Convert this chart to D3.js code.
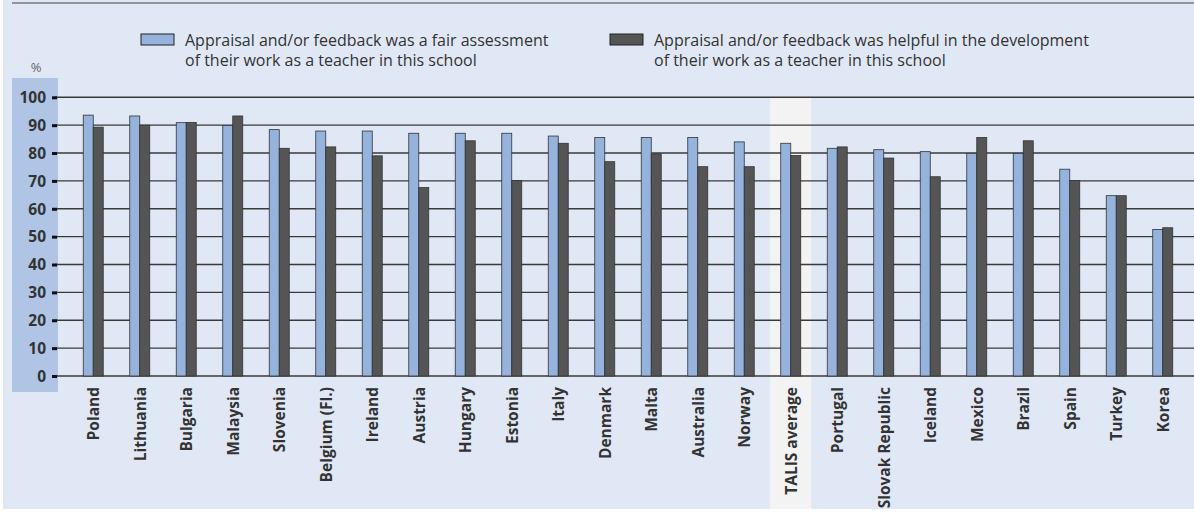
<!DOCTYPE html>
<html>
<head>
<meta charset="utf-8">
<script src="https://cdn.jsdelivr.net/npm/d3@7"></script>
<style>
  body { margin: 0; background: #fff; }
  svg text { font-family: 'Open Sans', sans-serif; fill: #333; }
  .tick-label { font-weight: bold; font-size: 15.5px; }
  .cat-label { font-weight: bold; font-size: 15.5px; }
  .legend-text { font-size: 16px; }
</style>
</head>
<body>
<div id="chart"></div>
<script>
// categories and series values (%)
var countries = ['Poland', 'Lithuania', 'Bulgaria', 'Malaysia', 'Slovenia', 'Belgium (Fl.)', 'Ireland',
    'Austria', 'Hungary', 'Estonia', 'Italy', 'Denmark', 'Malta', 'Australia', 'Norway', 'TALIS average',
    'Portugal', 'Slovak Republic', 'Iceland', 'Mexico', 'Brazil', 'Spain', 'Turkey', 'Korea'];
var fairAssessment = [93.6, 93.3, 90.9, 89.9, 88.4, 87.9, 87.9, 87.1, 87.1, 87.1, 86.1, 85.6, 85.6, 85.6,
    84.0, 83.5, 81.7, 81.2, 80.5, 79.9, 79.9, 74.2, 64.7, 52.6];
var helpfulDevelopment = [89.3, 90.0, 91.0, 93.3, 81.7, 82.2, 79.0, 67.6, 84.4, 70.1, 83.5, 76.9, 79.7, 75.1,
    75.1, 79.1, 82.2, 78.2, 71.5, 85.6, 84.4, 70.1, 64.7, 53.2];
var yTicks = [0, 10, 20, 30, 40, 50, 60, 70, 80, 90, 100];
var legendLabels = [
    ['Appraisal and/or feedback was a fair assessment', 'of their work as a teacher in this school'],
    ['Appraisal and/or feedback was helpful in the development', 'of their work as a teacher in this school']
];
var highlight = 'TALIS average';

var svgWidth = 1194;
var svgHeight = 512;

var colors = ['#95b3dd', '#555555'];

var svg = d3.select('#chart')
    .append('svg')
    .attr('width', svgWidth)
    .attr('height', svgHeight);

// panel background
svg.append('rect')
    .attr('x', 3).attr('y', 0)
    .attr('width', svgWidth - 3).attr('height', 509)
    .attr('fill', '#e1e8f5');

// top rule
svg.append('line')
    .attr('x1', 12).attr('x2', svgWidth)
    .attr('y1', 3).attr('y2', 3)
    .attr('stroke', '#444').attr('stroke-width', 1.2);

// scales
var x0 = d3.scaleBand()
    .domain(countries)
    .range([70, 1186])
    .paddingInner(0.57)
    .paddingOuter(0.285);

var x1 = d3.scaleBand()
    .domain([0, 1])
    .range([0, x0.bandwidth()]);

var y = d3.scaleLinear()
    .domain([0, 100])
    .range([376, 97.3]);

// shaded strip behind y labels
svg.append('rect')
    .attr('x', 12).attr('y', 78)
    .attr('width', 46).attr('height', 314)
    .attr('fill', '#b0c5e6');

// highlighted column
svg.append('rect')
    .attr('x', x0(highlight) + x0.bandwidth() / 2 - 20.5)
    .attr('y', y(100))
    .attr('width', 41)
    .attr('height', 509 - y(100))
    .attr('fill', '#f3f3f3');

// gridlines
svg.append('g')
    .selectAll('line')
    .data(yTicks)
    .enter()
    .append('line')
    .attr('x1', 55).attr('x2', svgWidth)
    .attr('y1', d => y(d)).attr('y2', d => y(d))
    .attr('stroke', '#3a3a3a')
    .attr('stroke-width', 1.4);

// left axis: square tick marks + labels
var leftAxis = d3.axisLeft(y)
    .tickValues(yTicks)
    .tickSize(0)
    .tickPadding(0);

var axisG = svg.append('g')
    .attr('transform', 'translate(52, 0)')
    .call(leftAxis);
axisG.select('.domain').remove();
axisG.selectAll('.tick text')
    .attr('class', 'tick-label')
    .attr('x', -6)
    .attr('dy', '0.34em')
    .style('font-family', null)
    .style('font-size', null);
axisG.selectAll('.tick')
    .append('rect')
    .attr('x', 0).attr('y', -1.5)
    .attr('width', 5).attr('height', 3)
    .attr('fill', '#111');

svg.append('text')
    .attr('x', 36).attr('y', 72)
    .attr('text-anchor', 'middle')
    .style('font-size', '13px')
    .style('fill', '#666')
    .text('%');

// bars
var groups = svg.append('g')
    .selectAll('g')
    .data(countries)
    .enter()
    .append('g')
    .attr('transform', d => `translate(${x0(d)}, 0)`);

groups.selectAll('rect')
    .data((d, i) => [fairAssessment[i], helpfulDevelopment[i]])
    .enter()
    .append('rect')
    .attr('x', (d, j) => x1(j))
    .attr('y', d => y(d))
    .attr('width', x1.bandwidth())
    .attr('height', d => y(0) - y(d))
    .attr('fill', (d, j) => colors[j])
    .attr('stroke', '#333')
    .attr('stroke-width', 0.8);

// category labels
svg.append('g')
    .selectAll('text')
    .data(countries)
    .enter()
    .append('text')
    .attr('class', 'cat-label')
    .attr('text-anchor', 'end')
    .attr('dominant-baseline', 'central')
    .attr('transform', d => `translate(${x0(d) + x0.bandwidth() / 2}, 387) rotate(-90)`)
    .text(d => d);

// legend
var legendX = [141, 610];
var legend = svg.append('g')
    .selectAll('g')
    .data(legendLabels)
    .enter()
    .append('g')
    .attr('transform', (d, i) => `translate(${legendX[i]}, 0)`);

legend.append('rect')
    .attr('x', 0).attr('y', 34)
    .attr('width', 33).attr('height', 11)
    .attr('fill', (d, i) => colors[i])
    .attr('stroke', '#222')
    .attr('stroke-width', 1);

legend.selectAll('text')
    .data(d => d)
    .enter()
    .append('text')
    .attr('class', 'legend-text')
    .attr('x', 44)
    .attr('y', (d, k) => 46 + k * 20)
    .text(d => d);
</script>
</body>
</html>
